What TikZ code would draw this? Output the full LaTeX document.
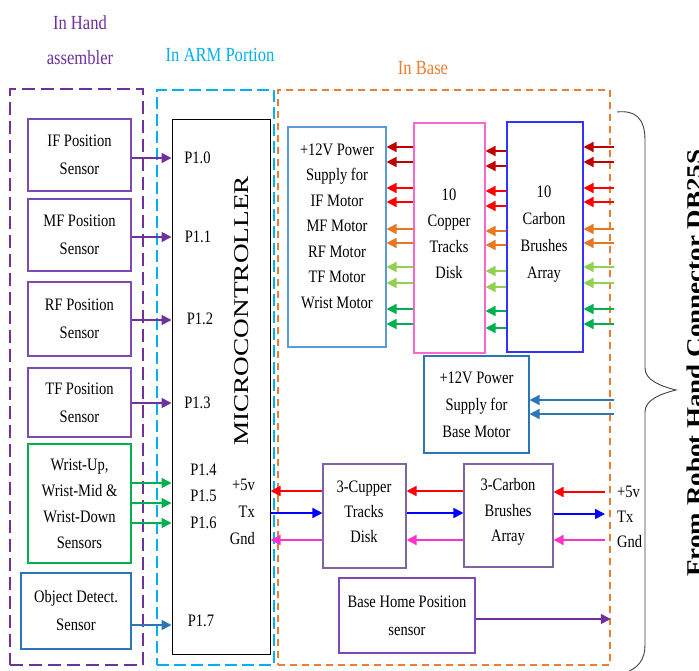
\documentclass[tikz,border=0pt]{standalone}
\usepackage{fontspec}
\setmainfont{Liberation Serif}[FakeStretch=0.83]
\newfontfamily\rotfont{Liberation Serif}[FakeStretch=1.3]
\newfontfamily\rotfontb{Liberation Serif}[FakeStretch=1.2]
\usetikzlibrary{arrows.meta,fit}
\definecolor{cPurple}{HTML}{7030A0}
\definecolor{cSens}{HTML}{7D4AB0}
\definecolor{cGreen}{HTML}{00B050}
\definecolor{cObj}{HTML}{2E75B6}
\definecolor{cCyan}{HTML}{00B0F0}
\definecolor{cOrange}{HTML}{ED7D31}
\definecolor{cOrg}{HTML}{E87722}
\definecolor{cPwr}{HTML}{5B9BD5}
\definecolor{cPink}{HTML}{FF66CC}
\definecolor{cBlue}{HTML}{3333FF}
\definecolor{cGray}{HTML}{8064A2}
\definecolor{cDRed}{HTML}{C00000}
\definecolor{cRed}{HTML}{FF0000}
\definecolor{cLGreen}{HTML}{92D050}
\definecolor{cTx}{HTML}{0000FF}
\definecolor{cGnd}{HTML}{FF33CC}
\definecolor{cBrace}{HTML}{404040}
\begin{document}
\begin{tikzpicture}[x=1pt,y=-1pt,
  box/.style={draw=#1, line width=1.1pt, inner sep=0pt},
  txt/.style={align=center, inner sep=0pt, font=\fontsize{17.5}{26}\selectfont},
  stxt/.style={align=center, inner sep=0pt, font=\fontsize{17.5}{28}\selectfont},
  ttl/.style={align=center, inner sep=0pt, font=\fontsize{20}{35}\selectfont},
  arr/.style={line width=1.6pt, -{Triangle[length=10pt,width=10pt]}},
  handreg/.style={draw=cPurple, line width=1.5pt, dash pattern=on 13pt off 6pt, inner sep=0pt},
  armreg/.style={draw=cCyan, line width=1.5pt, dash pattern=on 12pt off 5pt, inner sep=0pt},
  basereg/.style={draw=cOrange, line width=1.5pt, dash pattern=on 7pt off 5pt, inner sep=0pt},
  bracestyle/.style={draw=cBrace, line width=0.9pt}
]
\fill[white] (0,0) rectangle (699,671);
\useasboundingbox (0,0) rectangle (699,671);

% regions
\node[handreg, fit={(10,89) (143,665)}] (hand) {};
\node[armreg, fit={(157,90) (274,665)}] (arm) {};
\node[basereg, fit={(278,90) (610,665)}] (base) {};

\node[ttl, text=cPurple] (thand) at (80,40) {In Hand\\assembler};
\node[ttl, text=cCyan] (tarm) at (220,55) {In ARM Portion};
\node[ttl, text=cOrange] (tbase) at (423,68) {In Base};

% sensors
\node[box=cSens, fit={(28,119) (131,191)}] (ifs) {};
\node[stxt] (ifst) at (ifs.center) {IF Position\\Sensor};
\node[box=cSens, fit={(28,199) (131,271)}] (mfs) {};
\node[stxt] (mfst) at (mfs.center) {MF Position\\Sensor};
\node[box=cSens, fit={(28,282) (131,356)}] (rfs) {};
\node[stxt] (rfst) at (rfs.center) {RF Position\\Sensor};
\node[box=cSens, fit={(28,368) (131,437)}] (tfs) {};
\node[stxt] (tfst) at (tfs.center) {TF Position\\Sensor};
\node[box=cGreen, fit={(28,444) (131,563)}] (wrs) {};
\node[txt] (wrst) at (wrs.center) {Wrist-Up,\\Wrist-Mid \&\\Wrist-Down\\Sensors};
\node[box=cObj, fit={(21,573) (131,649)}] (obs) {};
\node[stxt] (obst) at (obs.center) {Object Detect.\\Sensor};

% microcontroller
\node[box=black, line width=1pt, fit={(172,120) (270,654)}] (mcu) {};
\node[rotate=90, inner sep=0pt, font=\rotfont\fontsize{21}{21}\selectfont] (mcut) at (242,311) {MICROCONTROLLER};
\node[txt] (p10) at (197.5,158) {P1.0};
\node[txt] (p11) at (198,237) {P1.1};
\node[txt] (p12) at (200,319) {P1.2};
\node[txt] (p13) at (197.5,403) {P1.3};
\node[txt] (p14) at (203.5,470) {P1.4};
\node[txt] (p15) at (203.5,496) {P1.5};
\node[txt] (p16) at (203.5,523) {P1.6};
\node[txt] (p17) at (201,621) {P1.7};
\node[txt, anchor=east] (m5v) at (255,485) {+5v};
\node[txt, anchor=east] (mtx) at (255,512) {Tx};
\node[txt, anchor=east] (mgnd) at (255,539) {Gnd};

% sensor arrows
\draw[arr, color=cPurple] (ifs.east |- 0,158) -- (mcu.west |- 0,158);
\draw[arr, color=cPurple] (mfs.east |- 0,237) -- (mcu.west |- 0,237);
\draw[arr, color=cPurple] (rfs.east |- 0,320) -- (mcu.west |- 0,320);
\draw[arr, color=cPurple] (tfs.east |- 0,403) -- (mcu.west |- 0,403);
\draw[arr, color=cGreen] (wrs.east |- 0,483) -- (mcu.west |- 0,483);
\draw[arr, color=cGreen] (wrs.east |- 0,503) -- (mcu.west |- 0,503);
\draw[arr, color=cGreen] (wrs.east |- 0,523) -- (mcu.west |- 0,523);
\draw[arr, color=cObj] (obs.east |- 0,625) -- (mcu.west |- 0,625);

% base blocks
\node[box=cPwr, fit={(288,127) (386,347)}] (pwr) {};
\node[txt, font=\fontsize{17.5}{25.5}\selectfont] (pwrt) at (337,226) {+12V Power\\Supply for\\IF Motor\\MF Motor\\RF Motor\\TF Motor\\Wrist Motor};
\node[box=cPink, fit={(414,123) (485,353)}] (cop) {};
\node[txt] (copt) at (449,234) {10\\Copper\\Tracks\\Disk};
\node[box=cBlue, fit={(507,122) (583,352)}] (carb) {};
\node[txt, font=\fontsize{17.5}{27}\selectfont] (carbt) at (544,234) {10\\Carbon\\Brushes\\Array};
\node[box=cObj, fit={(424,356) (529,453)}] (bpwr) {};
\node[txt, font=\fontsize{17.5}{27}\selectfont] (bpwrt) at (bpwr.center) {+12V Power\\Supply for\\Base Motor};
\node[box=cGray, fit={(323,464) (406,568)}] (cup3) {};
\node[txt, font=\fontsize{17.5}{25}\selectfont] (cup3t) at (364,512) {3-Cupper\\Tracks\\Disk};
\node[box=cGray, fit={(464,464) (553,567)}] (carb3) {};
\node[txt, font=\fontsize{17.5}{25.5}\selectfont] (carb3t) at (508,512) {3-Carbon\\Brushes\\Array};
\node[box=cSens, fit={(339,578) (475,653)}] (home) {};
\node[stxt] (homet) at (home.center) {Base Home Position\\sensor};

\coordinate (conn) at (614,0);
\coordinate (conn2) at (605,0);

\foreach \ya/\yb/\c in {147/151/cDRed, 162/166/cDRed, 188/191/cRed, 202/206/cRed, 229/231/cOrg, 243/245/cOrg, 267/271/cLGreen, 283/287/cLGreen, 309/311/cGreen, 324/328/cGreen}{
  \draw[arr, color=\c] (conn |- 0,\ya) -- (carb.east |- 0,\ya);
  \draw[arr, color=\c] (carb.west |- 0,\yb) -- (cop.east |- 0,\yb);
  \draw[arr, color=\c] (cop.west |- 0,\ya) -- (pwr.east |- 0,\ya);
}
\draw[arr, color=cObj] (conn |- 0,400) -- (bpwr.east |- 0,400);
\draw[arr, color=cObj] (conn |- 0,414) -- (bpwr.east |- 0,414);

% +5v, Tx, Gnd
\draw[arr, color=cRed] (conn2 |- 0,492) -- (carb3.east |- 0,492);
\draw[arr, color=cRed] (carb3.west |- 0,491) -- (cup3.east |- 0,491);
\draw[arr, color=cRed] (cup3.west |- 0,491) -- (mcu.east |- 0,491);
\draw[arr, color=cTx] (mcu.east |- 0,513) -- (cup3.west |- 0,513);
\draw[arr, color=cTx] (cup3.east |- 0,513) -- (carb3.west |- 0,513);
\draw[arr, color=cTx] (carb3.east |- 0,514) -- (conn2 |- 0,514);
\draw[arr, color=cGnd] (conn2 |- 0,540) -- (carb3.east |- 0,540);
\draw[arr, color=cGnd] (carb3.west |- 0,540) -- (cup3.east |- 0,540);
\draw[arr, color=cGnd] (cup3.west |- 0,540) -- (mcu.east |- 0,540);

\draw[arr, color=cPurple] (home.east |- 0,619) -- (base.east |- 0,619);

\node[txt, anchor=west] (c5v) at (617,492) {+5v};
\node[txt, anchor=west] (ctx) at (617,517) {Tx};
\node[txt, anchor=west] (cgnd) at (617,542) {Gnd};

% brace
\draw[bracestyle] (617,112) .. controls (635,110) and (645,118) .. (645,140)
  -- (645,368) .. controls (645,380) and (660,386) .. (676,390)
  .. controls (660,394) and (645,400) .. (645,412)
  -- (645,645) .. controls (645,660) and (638,668) .. (625,673);
\node[rotate=90, anchor=base, inner sep=0pt, font=\rotfontb\bfseries\fontsize{22.5}{22.5}\selectfont] (from) at (702,363) {From Robot Hand Connector DB25S};
\end{tikzpicture}
\end{document}
